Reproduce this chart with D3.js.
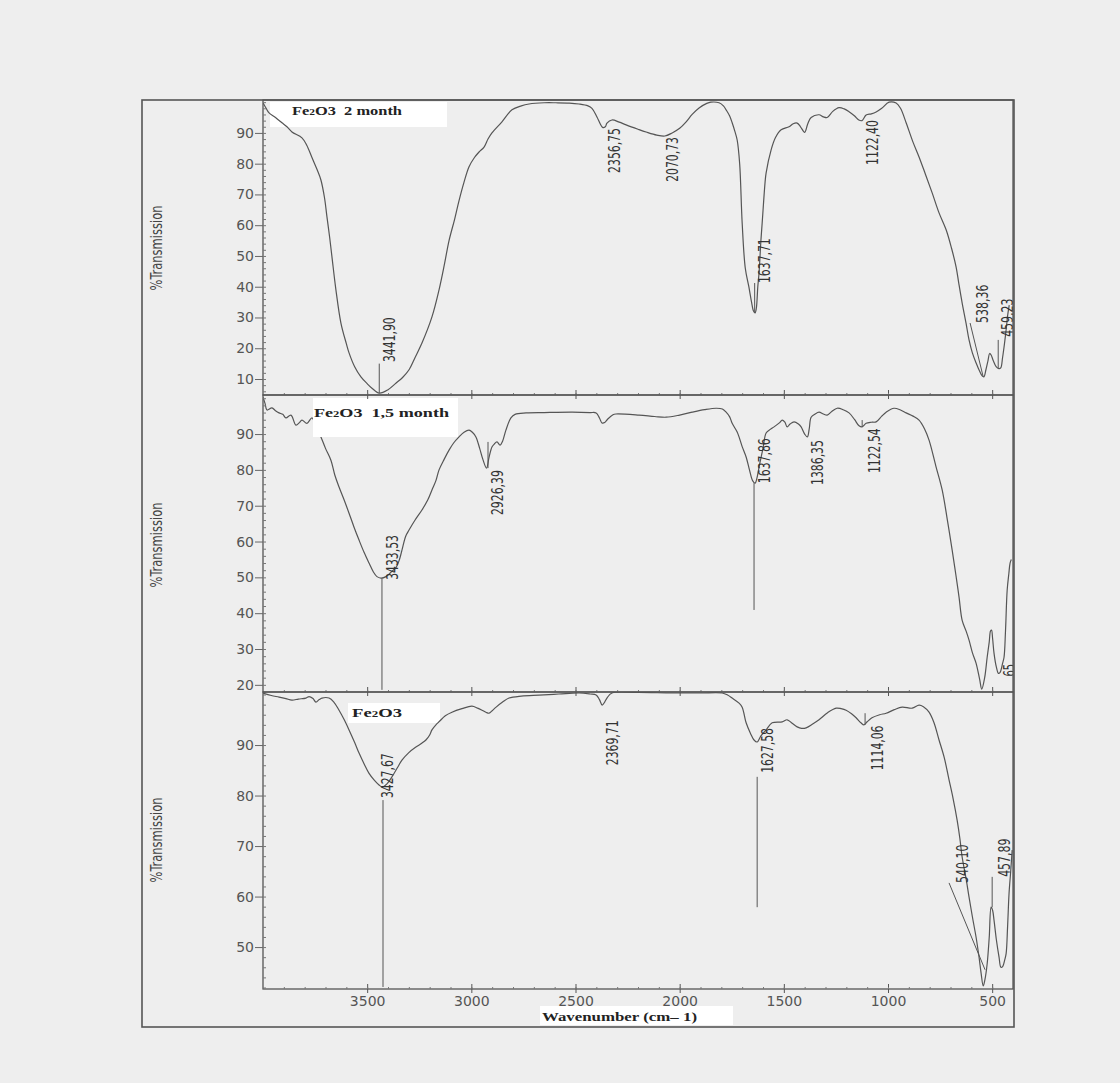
<!DOCTYPE html>
<html>
<head>
<meta charset="utf-8">
<script src="https://cdn.jsdelivr.net/npm/d3@7"></script>
<style>
  body { margin: 0; background: #eeeeee; }
  svg { display: block; }
</style>
</head>
<body>
<svg id="chart" width="1120" height="1083"></svg>
<script>
// wavenumber (cm-1) vs %T
const month2 = [
  [4000, 99.8], [3985, 98], [3971, 96.5], [3940, 95], [3909, 93.3], [3885, 92], [3861, 90.3],
  [3813, 88.4], [3790, 86], [3765, 82], [3740, 78], [3722, 74.7], [3705, 69], [3693, 62.7],
  [3680, 56], [3669, 49.7], [3650, 39], [3626, 28.2], [3600, 21.5], [3587, 18.5], [3560, 14],
  [3530, 10.7], [3500, 8.5], [3477, 7], [3442, 5.4], [3400, 6.5], [3361, 8.7], [3330, 10.5],
  [3299, 13], [3270, 17], [3237, 21.7], [3189, 30.2], [3155, 39], [3130, 47], [3107, 55],
  [3080, 62], [3059, 68], [3035, 74], [3011, 79], [2985, 82], [2963, 83.8], [2939, 85.4],
  [2920, 88], [2901, 90], [2853, 93.6], [2805, 97.5], [2760, 98.8], [2723, 99.4], [2650, 99.8],
  [2594, 99.8], [2530, 99.7], [2483, 99.4], [2440, 98.8], [2421, 98], [2397, 95.2], [2370, 91.8],
  [2357, 92], [2349, 93.2], [2325, 94.2], [2290, 93.5], [2257, 92.6], [2200, 91.2], [2161, 90.3],
  [2110, 89.3], [2071, 89], [2036, 90], [2000, 91.5], [1969, 93.6], [1940, 96], [1907, 98.1],
  [1870, 99.6], [1850, 100], [1811, 99.8], [1790, 98.8], [1777, 97.5], [1760, 95.5], [1748, 93.3],
  [1735, 90.5], [1724, 87.7], [1712, 80], [1700, 60.7], [1685, 46], [1668, 40], [1655, 35],
  [1645, 32], [1638, 31.5], [1632, 33], [1625, 40], [1619, 44.5], [1610, 55], [1604, 60.7],
  [1590, 74], [1585, 77], [1561, 84.5], [1540, 88.5], [1513, 91], [1475, 92], [1455, 93],
  [1436, 93.2], [1420, 92], [1400, 90.2], [1385, 93], [1369, 95], [1331, 95.9], [1310, 95.2],
  [1292, 95], [1265, 97], [1235, 98.2], [1210, 97.8], [1187, 96.9], [1160, 95.5], [1140, 94.2],
  [1125, 94], [1105, 95.8], [1080, 96.2], [1057, 96.8], [1030, 98], [995, 100], [961, 99.7],
  [940, 98], [913, 93.3], [880, 87], [851, 82.2], [820, 76.5], [788, 70.5], [755, 64],
  [721, 58.5], [695, 52.5], [673, 46.4], [660, 41], [644, 34.7], [625, 28], [611, 22.7],
  [595, 18.5], [577, 15.2], [560, 12.5], [548, 11], [540, 10.7], [530, 13], [520, 16],
  [512, 18.3], [505, 17.8], [495, 16], [481, 14], [468, 13.4], [459, 13.6], [450, 17],
  [440, 22], [433, 26], [425, 31], [418, 34]
]

const month15 = [
  [4000, 100.3], [3990, 98.5], [3981, 96.7], [3957, 97.3], [3940, 96.5], [3923, 95.9],
  [3905, 95.5], [3890, 94.5], [3866, 95.3], [3842, 92.5], [3825, 93.2], [3813, 93.9],
  [3789, 93], [3765, 94.5], [3745, 92], [3722, 89.2], [3700, 86], [3674, 82.7], [3655, 78.5],
  [3635, 75.2], [3610, 71.5], [3587, 67.9], [3563, 64], [3539, 60.4], [3515, 57], [3491, 54],
  [3470, 51.5], [3453, 50.2], [3434, 49.8], [3410, 50.2], [3385, 51.5], [3361, 52.8],
  [3345, 55], [3333, 57.6], [3315, 61.5], [3299, 63.2], [3270, 66], [3237, 68.8], [3210, 71.5],
  [3189, 74.4], [3170, 77], [3155, 80], [3130, 83], [3107, 85.5], [3085, 87.5], [3059, 89.2],
  [3035, 90.5], [3011, 91.1], [2995, 90.5], [2978, 89.2], [2960, 86], [2945, 83], [2927, 80.5],
  [2915, 83.5], [2901, 86.4], [2890, 87.2], [2877, 87.8], [2862, 86.9], [2850, 88], [2834, 91.1],
  [2810, 94.5], [2790, 95.5], [2737, 95.9], [2650, 96], [2516, 96.1], [2430, 96], [2401, 95.9],
  [2385, 94.5], [2373, 93.1], [2360, 93.2], [2345, 94.2], [2320, 95.4], [2306, 95.6],
  [2195, 95.3], [2120, 94.9], [2065, 94.7], [2000, 95.3], [1940, 96.1], [1880, 96.8],
  [1825, 97.2], [1795, 97], [1777, 96.1], [1760, 94.8], [1748, 93], [1724, 90.6], [1715, 89.2],
  [1700, 86.5], [1681, 83.6], [1665, 80], [1650, 77], [1638, 76.3], [1628, 78], [1619, 80.8],
  [1600, 86], [1585, 90.3], [1565, 91.3], [1547, 92], [1520, 93.2], [1508, 93.9], [1495, 93.3],
  [1484, 92], [1470, 92.8], [1451, 93.4], [1430, 92.8], [1417, 92], [1400, 90], [1387, 89.2],
  [1378, 91.5], [1369, 94.7], [1350, 95.6], [1331, 96.1], [1310, 95.6], [1292, 95.3],
  [1270, 96.3], [1244, 97.2], [1215, 96.8], [1187, 95.9], [1160, 94], [1139, 92.3], [1124, 92],
  [1105, 93], [1080, 93.3], [1057, 93.4], [1030, 95], [1009, 96.1], [971, 97.2], [940, 96.7],
  [913, 95.9], [880, 95], [851, 93.9], [825, 91.5], [803, 88.3], [770, 81], [740, 74.4],
  [715, 66], [692, 57.6], [675, 51], [659, 44.5], [644, 38], [625, 35], [611, 32.5], [595, 29],
  [577, 26], [560, 21.5], [550, 18.8], [536, 22], [524, 27.7], [514, 32], [508, 35], [503, 35.3],
  [498, 33], [491, 28.8], [480, 25], [470, 23.2], [462, 23.5], [450, 26], [443, 27.7], [436, 35],
  [428, 46.4], [420, 51], [414, 54], [408, 55]
]

const fresh = [
  [4000, 100.3], [3960, 99.8], [3923, 99.5], [3890, 99.2], [3861, 98.9], [3830, 99.1],
  [3794, 99.3], [3779, 99.6], [3760, 99.2], [3746, 98.5], [3730, 99], [3717, 99.3], [3683, 99.3],
  [3660, 98.5], [3635, 96.9], [3610, 95], [3587, 93], [3560, 90.5], [3539, 88.4], [3515, 86.3],
  [3491, 84.4], [3465, 83], [3443, 82.1], [3428, 81.7], [3405, 82.3], [3381, 83.7], [3355, 85.5],
  [3333, 87], [3300, 88.5], [3266, 89.6], [3240, 90.3], [3218, 91], [3200, 92], [3189, 93],
  [3170, 94], [3155, 94.6], [3125, 95.8], [3093, 96.5], [3045, 97.2], [2997, 97.7], [2970, 97.3],
  [2949, 96.9], [2930, 96.5], [2915, 96.3], [2900, 96.8], [2881, 97.5], [2850, 98.5], [2819, 99.3],
  [2760, 99.7], [2675, 99.9], [2580, 100.1], [2483, 100.3], [2430, 100.1], [2401, 99.9],
  [2385, 99], [2372, 97.9], [2360, 98.5], [2349, 99.3], [2325, 100.3], [2200, 100.4],
  [2036, 100.3], [1900, 100.3], [1796, 100.3], [1770, 99.9], [1748, 99.3], [1715, 98.3],
  [1700, 97.5], [1681, 94.4], [1660, 92.3], [1643, 91], [1628, 90.6], [1610, 91.8], [1585, 93],
  [1556, 94.4], [1508, 94.6], [1484, 95], [1460, 94.3], [1436, 93.6], [1415, 93.3], [1393, 93.4],
  [1360, 94.2], [1331, 95], [1290, 96.4], [1249, 97.3], [1225, 97.2], [1201, 96.9], [1175, 96.2],
  [1153, 95.4], [1130, 94.4], [1115, 94], [1100, 94.6], [1077, 95.4], [1040, 96], [1009, 96.3],
  [970, 97], [932, 97.5], [884, 97.3], [851, 97.9], [830, 97.6], [803, 96.5], [780, 94.5],
  [755, 91], [730, 87.5], [707, 83.1], [688, 79.5], [668, 75.1], [655, 71.5], [644, 67.8],
  [625, 63.5], [611, 59.9], [595, 56], [577, 51.9], [563, 48], [553, 44.8], [543, 42.3],
  [535, 43.5], [524, 46.7], [514, 52], [505, 57.9], [498, 57.3], [491, 55.3], [480, 51.5],
  [467, 48], [458, 46], [449, 46.2], [440, 47.4], [433, 48.7], [426, 54], [419, 60.6],
  [411, 65], [404, 69.2]
]

// peak labels: text, wavenumber where the text sits, %T where it starts
const peaks2 = [
  { text: '3441,90', wn: 3390, t: 15.5 }, { text: '2356,75', wn: 2310, t: 77 },
  { text: '2070,73', wn: 2032, t: 74.1 }, { text: '1637,71', wn: 1590, t: 41.2 },
  { text: '1122,40', wn: 1076, t: 79.6 }, { text: '538,36', wn: 548, t: 28.2 },
  { text: '459,23', wn: 428, t: 23.7 }
]
const peaks15 = [
  { text: '3433,53', wn: 3376, t: 49.3 }, { text: '2926,39', wn: 2872, t: 67.4 },
  { text: '1637,86', wn: 1590, t: 76.3 }, { text: '1386,35', wn: 1336, t: 75.8 },
  { text: '1122,54', wn: 1062, t: 79.1 }, { text: '65', wn: 414, t: 22.3 }
]
const peaksFresh = [
  { text: '3427,67', wn: 3400, t: 79.5 }, { text: '2369,71', wn: 2320, t: 86 },
  { text: '1627,58', wn: 1580, t: 84.5 }, { text: '1114,06', wn: 1048, t: 85 },
  { text: '540,10', wn: 640, t: 62.7 }, { text: '457,89', wn: 438, t: 63.9 }
]
// marker lines [wn1, t1, wn2, t2]
const marks2 = [[3442, 5.4, 3442, 15], [1640, 31.5, 1640, 41.2], [606, 28.2, 543, 10.7], [471, 22.7, 471, 13.6]]
const marks15 = [[3429, 49.8, 3429, 18.6], [2920, 87.8, 2920, 80.5], [1643, 76.3, 1643, 40.9], [1124, 93.9, 1124, 92]]
const marksFresh = [[3424, 79.1, 3424, 42.1], [1628, 83.7, 1628, 57.9], [1110, 96.3, 1110, 94], [707, 62.7, 534, 45.5], [500, 63.9, 500, 57.9]]

const ticks2 = [10, 20, 30, 40, 50, 60, 70, 80, 90]
const ticks15 = [20, 30, 40, 50, 60, 70, 80, 90]
const ticksFresh = [50, 60, 70, 80, 90]
const xTicks = [3500, 3000, 2500, 2000, 1500, 1000, 500]

const svg = d3.select('#chart')
const left = 263, right = 1013
const x = d3.scaleLinear().domain([4000, 400]).range([left, right])

const panels = [
  { top: 100, bottom: 395, dom: [4.8, 100.7], ticks: ticks2, data: month2, peaks: peaks2, marks: marks2,
    title: ['Fe', '2', 'O3\u00a0\u00a02 month'], box: [270, 102, 177, 25], tx: 292, ty: 115, tl: 110, boxOnTop: false, labelY: 248 },
  { top: 395, bottom: 692, dom: [18, 100.9], ticks: ticks15, data: month15, peaks: peaks15, marks: marks15,
    title: ['Fe', '2', 'O3\u00a0\u00a01,5 month'], box: [313, 398, 145, 39], tx: 314, ty: 417, tl: 135, boxOnTop: true, labelY: 545 },
  { top: 692, bottom: 989, dom: [41.7, 100.5], ticks: ticksFresh, data: fresh, peaks: peaksFresh, marks: marksFresh,
    title: ['Fe', '2', 'O3'], box: [348, 703, 92, 20], tx: 352, ty: 717, tl: 50, boxOnTop: false, labelY: 840 }
]

// outer frame
svg.append('rect').attr('x', 142).attr('y', 100).attr('width', 872).attr('height', 927)
  .attr('fill', '#eeeeee').attr('stroke', '#555').attr('stroke-width', 1.6)

panels.forEach(function (p, i) {
  const y = d3.scaleLinear().domain(p.dom).range([p.bottom, p.top])
  const g = svg.append('g')
  const clipId = 'clip' + i
  svg.append('clipPath').attr('id', clipId).append('rect')
    .attr('x', left).attr('y', p.top).attr('width', right - left).attr('height', p.bottom - p.top)

  function drawBox() {
    g.append('rect').attr('x', p.box[0]).attr('y', p.box[1]).attr('width', p.box[2]).attr('height', p.box[3])
      .attr('fill', '#ffffff')
    const t = g.append('text').attr('x', p.tx).attr('y', p.ty)
      .attr('font-family', 'Liberation Serif, serif').attr('font-weight', 'bold').attr('font-size', 13)
      .attr('fill', '#222').attr('textLength', p.tl).attr('lengthAdjust', 'spacingAndGlyphs')
    t.append('tspan').text(p.title[0])
    t.append('tspan').attr('font-size', 9).text(p.title[1])
    t.append('tspan').text(p.title[2])
  }
  if (!p.boxOnTop) drawBox()

  const line = d3.line().x(d => x(d[0])).y(d => y(d[1])).curve(d3.curveCatmullRom.alpha(0.5))
  g.append('path').attr('d', line(p.data)).attr('fill', 'none')
    .attr('stroke', '#555').attr('stroke-width', 1.2).attr('clip-path', 'url(#' + clipId + ')')

  g.selectAll('.mark').data(p.marks).enter().append('line')
    .attr('x1', d => x(d[0])).attr('y1', d => y(d[1])).attr('x2', d => x(d[2])).attr('y2', d => y(d[3]))
    .attr('stroke', '#555').attr('stroke-width', 1)

  g.append('g').attr('clip-path', 'url(#' + clipId + ')')
    .selectAll('text').data(p.peaks).enter().append('text')
    .attr('transform', d => 'translate(' + x(d.wn) + ',' + y(d.t) + ') rotate(-90)')
    .attr('dy', '0.36em')
    .attr('font-family', 'DejaVu Sans Condensed, DejaVu Sans, sans-serif').attr('font-size', 15)
    .attr('fill', '#333')
    .attr('textLength', d => d.text.length * 6.4).attr('lengthAdjust', 'spacingAndGlyphs')
    .text(d => d.text)

  if (p.boxOnTop) drawBox()

  // panel border
  g.append('rect').attr('x', left).attr('y', p.top).attr('width', right - left).attr('height', p.bottom - p.top)
    .attr('fill', 'none').attr('stroke', '#555').attr('stroke-width', 1.3)

  // y axis: major ticks outside, minor inside
  const ya = g.append('g').attr('transform', 'translate(' + left + ',0)')
    .call(d3.axisLeft(y).tickValues(p.ticks).tickSize(8).tickPadding(1).tickFormat(d3.format('d')))
  ya.select('.domain').remove()
  ya.selectAll('line').attr('stroke', '#666')
  ya.selectAll('text').attr('font-family', 'DejaVu Sans, sans-serif').attr('font-size', 14).attr('fill', '#555')
  const minorY = d3.range(Math.ceil(p.dom[0] / 2) * 2, p.dom[1], 2)
  const ym = g.append('g').attr('transform', 'translate(' + left + ',0)')
    .call(d3.axisRight(y).tickValues(minorY).tickSize(3).tickFormat(''))
  ym.select('.domain').remove()
  ym.selectAll('line').attr('stroke', '#777')

  // x ticks at the bottom of each panel
  const xa = g.append('g').attr('transform', 'translate(0,' + p.bottom + ')')
    .call(d3.axisTop(x).tickValues(xTicks).tickSize(5).tickFormat(''))
  xa.select('.domain').remove()
  xa.selectAll('line').attr('stroke', '#555')
  const xm = g.append('g').attr('transform', 'translate(0,' + p.bottom + ')')
    .call(d3.axisTop(x).tickValues(d3.range(3900, 400, -100)).tickSize(2).tickFormat(''))
  xm.select('.domain').remove()
  xm.selectAll('line').attr('stroke', '#777')
  if (i > 0) {
    const xt = g.append('g').attr('transform', 'translate(0,' + p.top + ')')
      .call(d3.axisBottom(x).tickValues(xTicks).tickSize(4).tickFormat(''))
    xt.select('.domain').remove()
    xt.selectAll('line').attr('stroke', '#555')
  }

  // y axis title
  g.append('text').attr('transform', 'translate(157,' + p.labelY + ') rotate(-90)')
    .attr('text-anchor', 'middle').attr('dy', '0.36em')
    .attr('font-family', 'DejaVu Sans Condensed, DejaVu Sans, sans-serif').attr('font-size', 15)
    .attr('fill', '#444').attr('textLength', 85).attr('lengthAdjust', 'spacingAndGlyphs')
    .text('%Transmission')
})

// bottom x axis labels
const xb = svg.append('g').attr('transform', 'translate(0,989)')
  .call(d3.axisBottom(x).tickValues(xTicks).tickSize(4).tickPadding(3).tickFormat(d3.format('d')))
xb.select('.domain').remove()
xb.selectAll('line').attr('stroke', '#555')
xb.selectAll('text').attr('font-family', 'DejaVu Sans, sans-serif').attr('font-size', 14).attr('fill', '#555')

svg.append('rect').attr('x', 540).attr('y', 1006).attr('width', 193).attr('height', 19).attr('fill', '#ffffff')
svg.append('text').attr('x', 542).attr('y', 1021)
  .attr('font-family', 'Liberation Serif, serif').attr('font-weight', 'bold').attr('font-size', 13)
  .attr('fill', '#222').attr('textLength', 155).attr('lengthAdjust', 'spacingAndGlyphs')
  .text('Wavenumber (cm– 1)')
</script>
</body>
</html>
